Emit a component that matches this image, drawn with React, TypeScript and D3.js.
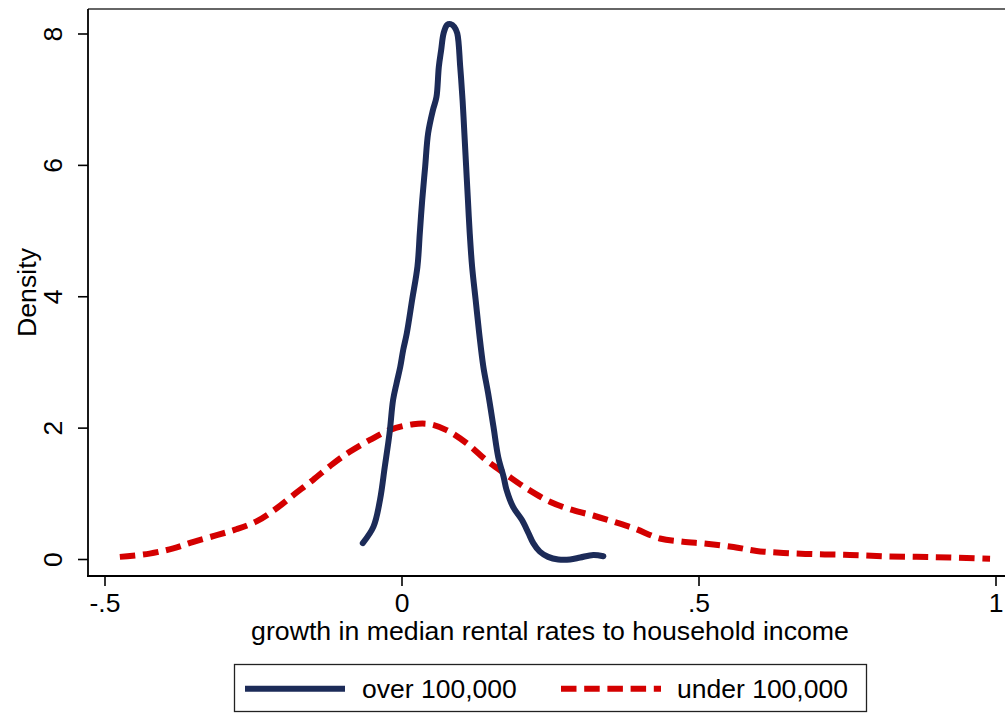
import { useEffect, useRef } from 'react';
import * as d3 from 'd3';

// density estimate, cities over 100,000
const overX = [-0.066, -0.048, -0.037, -0.029, -0.021, -0.015, -0.009, -0.003, 0.002, 0.008, 0.017, 0.026, 0.03, 0.034, 0.039, 0.044, 0.052, 0.058, 0.062, 0.066, 0.07, 0.076, 0.082, 0.088, 0.093, 0.098, 0.102, 0.105, 0.108, 0.111, 0.114, 0.118, 0.124, 0.13, 0.137, 0.145, 0.154, 0.162, 0.171, 0.176, 0.187, 0.202, 0.213, 0.221, 0.232, 0.246, 0.263, 0.283, 0.3, 0.322, 0.339];
const overY = [0.25, 0.5, 0.91, 1.41, 1.92, 2.43, 2.69, 2.93, 3.19, 3.44, 3.95, 4.46, 4.97, 5.47, 5.98, 6.49, 6.84, 7.04, 7.5, 7.76, 8.01, 8.14, 8.15, 8.11, 8.01, 7.5, 6.99, 6.49, 5.98, 5.47, 4.97, 4.46, 3.95, 3.44, 2.93, 2.53, 2.02, 1.56, 1.26, 1.06, 0.8, 0.6, 0.4, 0.25, 0.12, 0.04, 0.0, 0.0, 0.03, 0.07, 0.05];

// density estimate, cities under 100,000
const underX = [-0.475, -0.425, -0.385, -0.351, -0.312, -0.279, -0.245, -0.211, -0.183, -0.15, -0.116, -0.088, -0.054, -0.021, 0.019, 0.047, 0.075, 0.109, 0.142, 0.176, 0.21, 0.249, 0.288, 0.322, 0.358, 0.392, 0.434, 0.473, 0.513, 0.558, 0.597, 0.642, 0.698, 0.754, 0.81, 0.866, 0.922, 0.99];
const underY = [0.04, 0.09, 0.17, 0.27, 0.37, 0.46, 0.58, 0.78, 0.98, 1.21, 1.46, 1.64, 1.82, 1.97, 2.06, 2.06, 1.97, 1.77, 1.51, 1.29, 1.08, 0.88, 0.75, 0.67, 0.57, 0.47, 0.32, 0.27, 0.24, 0.19, 0.13, 0.1, 0.08, 0.07, 0.05, 0.04, 0.03, 0.01];

const xTicks = [-0.5, 0, 0.5, 1];
const xTickLabels = ['-.5', '0', '.5', '1'];
const yTicks = [0, 2, 4, 6, 8];
const yTickLabels = ['0', '2', '4', '6', '8'];

const seriesNames = ['over 100,000', 'under 100,000'];
const seriesColors = ['#1c2b58', '#d40000'];

const W = 1005;
const H = 713;
const FONT = '"Liberation Sans", Arial, sans-serif';

export default function App() {
  const svgRef = useRef<SVGSVGElement>(null);

  useEffect(() => {
    if (!svgRef.current) return;
    const svg = d3.select(svgRef.current);
    svg.selectAll('*').remove();

    const x = d3.scaleLinear().domain([-0.5, 1]).range([105, 996]);
    const y = d3.scaleLinear().domain([0, 8]).range([559.5, 34]);

    const left = 88;
    const top = 9;
    const bottom = 576;

    // plot region frame (right side falls outside the picture)
    svg.append('line').attr('x1', left).attr('x2', W + 5).attr('y1', top).attr('y2', top)
      .attr('stroke', '#333').attr('stroke-width', 1.7);
    svg.append('line').attr('x1', left).attr('x2', left).attr('y1', top).attr('y2', bottom)
      .attr('stroke', '#000').attr('stroke-width', 1.8);
    svg.append('line').attr('x1', left - 1).attr('x2', W + 5).attr('y1', bottom).attr('y2', bottom)
      .attr('stroke', '#000').attr('stroke-width', 1.8);

    // y ticks
    const yt = svg.append('g');
    yTicks.forEach((t, i) => {
      yt.append('line').attr('x1', left - 10).attr('x2', left).attr('y1', y(t)).attr('y2', y(t))
        .attr('stroke', '#000').attr('stroke-width', 1.6);
      yt.append('text')
        .attr('transform', `translate(62,${y(t)}) rotate(-90)`)
        .attr('text-anchor', 'middle')
        .style('font-family', FONT).style('font-size', '26.5px').attr('fill', '#000')
        .text(yTickLabels[i]);
    });

    // x ticks
    const xt = svg.append('g');
    xTicks.forEach((t, i) => {
      xt.append('line').attr('x1', x(t)).attr('x2', x(t)).attr('y1', bottom).attr('y2', bottom + 10)
        .attr('stroke', '#000').attr('stroke-width', 1.6);
      xt.append('text')
        .attr('x', x(t)).attr('y', 612)
        .attr('text-anchor', 'middle')
        .style('font-family', FONT).style('font-size', '26.5px').attr('fill', '#000')
        .text(xTickLabels[i]);
    });

    svg.append('text')
      .attr('x', 550).attr('y', 640).attr('text-anchor', 'middle')
      .style('font-family', FONT).style('font-size', '26.7px').attr('fill', '#000')
      .text('growth in median rental rates to household income');

    svg.append('text')
      .attr('transform', `translate(36,${(top + bottom) / 2}) rotate(-90)`)
      .attr('text-anchor', 'middle')
      .style('font-family', FONT).style('font-size', '26.7px').attr('fill', '#000')
      .text('Density');

    const line = d3.line<[number, number]>()
      .x((d) => x(d[0]))
      .y((d) => y(d[1]))
      .curve(d3.curveCatmullRom.alpha(0.5));

    const under = underX.map((v, i) => [v, underY[i]] as [number, number]);
    const over = overX.map((v, i) => [v, overY[i]] as [number, number]);

    svg.append('path').attr('d', line(under)).attr('fill', 'none')
      .attr('stroke', seriesColors[1]).attr('stroke-width', 6)
      .attr('stroke-dasharray', '15.5 7.7').attr('stroke-linecap', 'butt');

    svg.append('path').attr('d', line(over)).attr('fill', 'none')
      .attr('stroke', seriesColors[0]).attr('stroke-width', 6)
      .attr('stroke-linecap', 'round').attr('stroke-linejoin', 'round');

    // legend
    const lg = svg.append('g');
    lg.append('rect').attr('x', 234.5).attr('y', 664.5).attr('width', 632).attr('height', 47)
      .attr('fill', '#fff').attr('stroke', '#222').attr('stroke-width', 1.3);
    const keyX = [245, 561];
    const textX = [362, 677];
    seriesNames.forEach((name, i) => {
      const key = lg.append('line')
        .attr('x1', keyX[i]).attr('x2', keyX[i] + 100)
        .attr('y1', 688.7).attr('y2', 688.7)
        .attr('stroke', seriesColors[i]).attr('stroke-width', 6);
      if (i === 1) key.attr('stroke-dasharray', '15.5 7.7');
      lg.append('text')
        .attr('x', textX[i]).attr('y', 698)
        .style('font-family', FONT).style('font-size', '26.5px').attr('fill', '#000')
        .text(name);
    });
  }, []);

  return (
    <svg
      ref={svgRef}
      width={W}
      height={H}
      viewBox={`0 0 ${W} ${H}`}
      style={{ position: 'absolute', left: 0, top: 0, background: '#fff' }}
    />
  );
}
